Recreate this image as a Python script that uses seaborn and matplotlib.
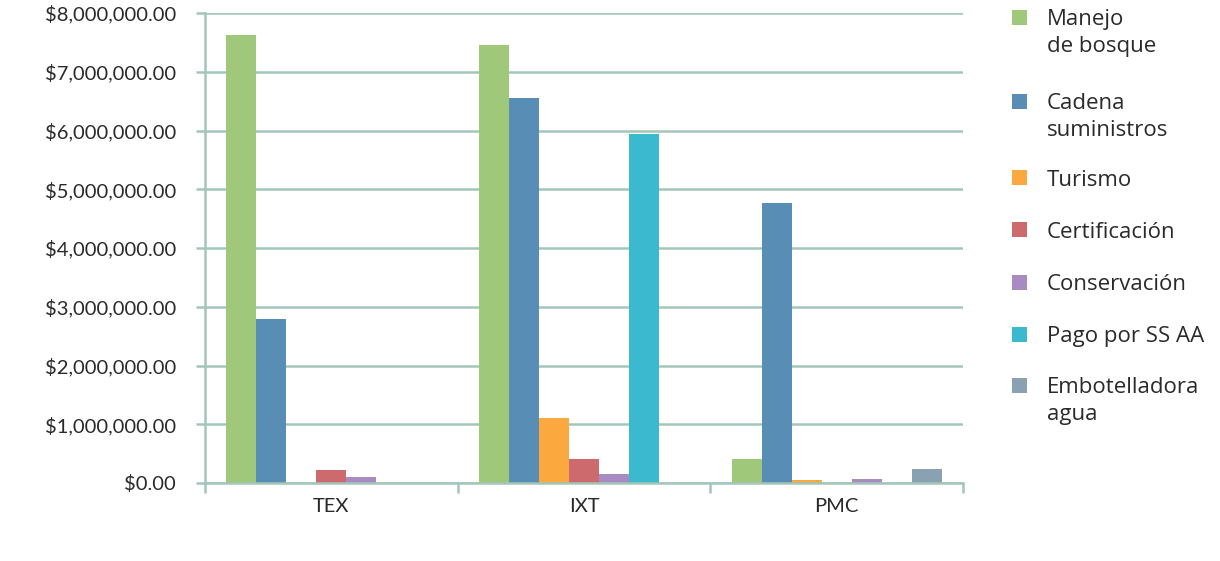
import matplotlib
matplotlib.use("Agg")
import matplotlib.pyplot as plt
import matplotlib.ticker as mticker
from matplotlib.patches import Rectangle
import seaborn as sns
import pandas as pd

# Amounts invested per community and activity (pesos)
communities = ["TEX", "IXT", "PMC"]
activities = ["Manejo\nde bosque", "Cadena\nsuministros", "Turismo", "Certificación",
              "Conservación", "Pago por SS AA", "Embotelladora\nagua"]
manejo_bosque = [7625000, 7455000, 410000]
cadena_suministros = [2790000, 6550000, 4770000]
turismo = [0, 1105000, 50000]
certificacion = [220000, 410000, 0]
conservacion = [100000, 150000, 70000]
pago_ss_aa = [0, 5940000, 0]
embotelladora = [0, 0, 240000]
colors = ["#9fc87a", "#588db5", "#fba93f", "#cd6a6e", "#a88cc1", "#3ab9cf", "#8aa0b3"]

series = [manejo_bosque, cadena_suministros, turismo, certificacion,
          conservacion, pago_ss_aa, embotelladora]
rows = []
for act, vals in zip(activities, series):
    for com, v in zip(communities, vals):
        rows.append({"Comunidad": com, "Actividad": act, "Monto": v})
df = pd.DataFrame(rows)

sns.set_theme(style="white")
plt.rcParams["font.family"] = ["Lato", "DejaVu Sans"]
plt.rcParams["ytick.left"] = True
plt.rcParams["ytick.major.size"] = 6.5
plt.rcParams["ytick.major.width"] = 1.8
plt.rcParams["ytick.major.pad"] = 14.5

grid_c = "#a3c6b9"
text_c = "#2a2a2a"

fig = plt.figure(figsize=(12.2, 5.61), dpi=100)
ax = fig.add_axes([205 / 1220, 1 - 483 / 561, (963 - 205) / 1220, (483 - 13) / 561])

sns.barplot(data=df, x="Comunidad", y="Monto", hue="Actividad",
            hue_order=activities, order=communities, palette=colors,
            width=0.83, saturation=1, legend=False, ax=ax, errorbar=None,
            linewidth=0, edgecolor="none")

ax.set_ylim(0, 8000000)
ax.set_xlim(-0.5, 2.5)
ax.yaxis.set_major_locator(mticker.MultipleLocator(1000000))
ax.yaxis.set_major_formatter(mticker.FuncFormatter(lambda v, p: f"${v:,.2f}"))
ax.grid(axis="y", color=grid_c, linewidth=1.8, zorder=0)
ax.set_axisbelow(True)
for side in ["top", "right"]:
    ax.spines[side].set_visible(False)
for side in ["left", "bottom"]:
    ax.spines[side].set_color(grid_c)
    ax.spines[side].set_linewidth(1.8)

ax.set_xlabel("")
ax.set_ylabel("")
ax.tick_params(axis="y", which="major", direction="out", length=6.5, width=1.8,
               color=grid_c, labelsize=14.5, labelcolor=text_c, pad=14.5, left=True)
ax.tick_params(axis="x", which="major", length=0, labelsize=14.5,
               labelcolor=text_c, pad=11)
ax.xaxis.set_minor_locator(mticker.FixedLocator([-0.5, 0.5, 1.5, 2.5]))
ax.tick_params(axis="x", which="minor", direction="out", length=7, width=1.8,
               color=grid_c, bottom=True)

# Legend drawn at the right side, swatch aligned with first text line
marker_y = [17.5, 101, 177.5, 229.5, 282, 334, 385]
for lab, col, yc in zip(activities, colors, marker_y):
    fig.patches.append(Rectangle((1012 / 1220, 1 - (yc + 7.5) / 561), 15 / 1220, 15 / 561,
                                 transform=fig.transFigure, facecolor=col,
                                 edgecolor="none", figure=fig))
    fig.text(1047 / 1220, 1 - (yc - 8) / 561, lab, fontsize=16, color=text_c,
             va="top", ha="left", linespacing=1.36,
             family=["Open Sans", "DejaVu Sans"])

fig.savefig("out.png", dpi=100)
